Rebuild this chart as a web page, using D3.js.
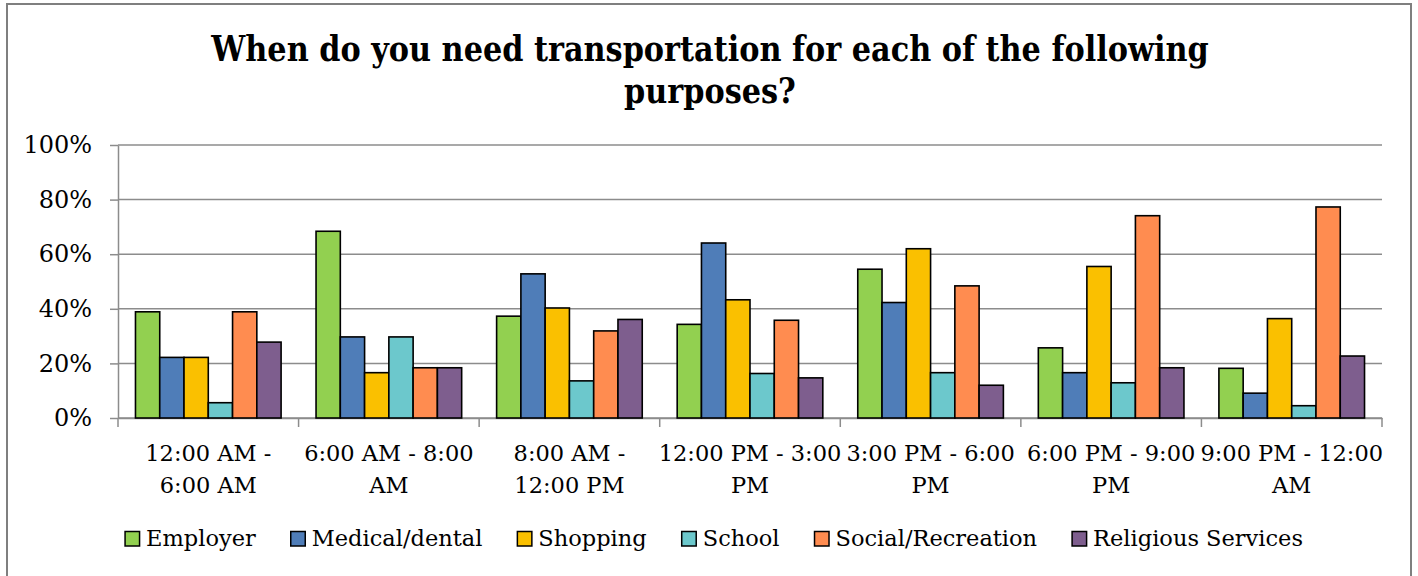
<!DOCTYPE html>
<html>
<head>
<meta charset="utf-8">
<script src="https://cdn.jsdelivr.net/npm/d3@7"></script>
<style>
  body { margin: 0; background: #fff; }
  svg { display: block; }
</style>
</head>
<body>
<svg id="chart" width="1418" height="576"></svg>
<script>
// ---- data ----
const categories = [
  "12:00 AM - 6:00 AM", "6:00 AM - 8:00 AM", "8:00 AM - 12:00 PM",
  "12:00 PM - 3:00 PM", "3:00 PM - 6:00 PM", "6:00 PM - 9:00 PM", "9:00 PM - 12:00 AM"
];
const categoryLabelLines = [
  ["12:00 AM -", "6:00 AM"], ["6:00 AM - 8:00", "AM"], ["8:00 AM -", "12:00 PM"],
  ["12:00 PM - 3:00", "PM"], ["3:00 PM - 6:00", "PM"], ["6:00 PM - 9:00", "PM"], ["9:00 PM - 12:00", "AM"]
];
const seriesNames = ["Employer", "Medical/dental", "Shopping", "School", "Social/Recreation", "Religious Services"];
const employer  = [38.9, 68.4, 37.3, 34.3, 54.5, 25.7, 18.2];
const medical   = [22.2, 29.7, 52.8, 64.1, 42.3, 16.6, 9.1];
const shopping  = [22.2, 16.6, 40.3, 43.3, 62.0, 55.5, 36.4];
const school    = [5.6, 29.7, 13.6, 16.3, 16.6, 12.9, 4.5];
const social    = [38.9, 18.4, 31.9, 35.8, 48.4, 74.1, 77.3];
const religious = [27.8, 18.4, 36.1, 14.7, 12.0, 18.4, 22.7];
const seriesValues = [employer, medical, shopping, school, social, religious];
const seriesColors = ["#92D050", "#4F7DB8", "#FAC000", "#6CC8CC", "#FF8C50", "#7E5E8E"];
const yTickValues = [0, 20, 40, 60, 80, 100];
const titleLines = ["When do you need transportation for each of the following", "purposes?"];

// ---- layout ----
const W = 1418, H = 576;
const plot = { left: 118, right: 1382, top: 145, bottom: 418 };
const FONT = "'DejaVu Serif', 'Liberation Serif', serif";
const gridColor = "#8c8c8c";

const svg = d3.select("#chart");
svg.append("rect").attr("width", W).attr("height", H).attr("fill", "#fff");

// chart frame
svg.append("rect")
  .attr("x", 7).attr("y", 4).attr("width", 1404).attr("height", H + 20)
  .attr("fill", "none").attr("stroke", "#7f7f7f").attr("stroke-width", 2);

// scales
const x0 = d3.scaleBand().domain(categories).range([plot.left, plot.right]).padding(0);
const x1 = d3.scaleBand().domain(seriesNames).range([0, x0.bandwidth()])
  .paddingInner(0).paddingOuter(0.72);
const y = d3.scaleLinear().domain([0, 100]).range([plot.bottom, plot.top]);
const color = d3.scaleOrdinal().domain(seriesNames).range(seriesColors);

// title
const title = svg.append("g").attr("class", "title");
titleLines.forEach((t, i) => {
  title.append("text")
    .attr("x", 710).attr("y", 61 + i * 42)
    .attr("text-anchor", "middle")
    .attr("font-family", FONT).attr("font-weight", "bold")
    .attr("font-size", 36).attr("fill", "#000")
    .text(t);
});
// keep the long title line at its wrapped width
(function fitTitle() {
  const first = title.select("text").node();
  const natural = first.getComputedTextLength();
  const target = 998;
  const k = target / natural;
  title.selectAll("text").attr("transform", `translate(${710 * (1 - k)},0) scale(${k},1)`);
})();

// horizontal gridlines
svg.append("g").attr("class", "grid")
  .selectAll("line").data(yTickValues).join("line")
  .attr("x1", plot.left).attr("x2", plot.right)
  .attr("y1", d => y(d)).attr("y2", d => y(d))
  .attr("stroke", gridColor).attr("stroke-width", 1.5);

// y axis
const yAxis = svg.append("g").attr("transform", `translate(${plot.left},0)`)
  .call(d3.axisLeft(y).tickValues(yTickValues).tickFormat(d => d + "%")
    .tickSize(8).tickSizeOuter(0).tickPadding(18));
yAxis.select(".domain").attr("stroke", gridColor).attr("stroke-width", 1.5);
yAxis.selectAll(".tick line").attr("stroke", gridColor).attr("stroke-width", 1.5);
yAxis.selectAll(".tick text")
  .attr("font-family", FONT).attr("font-size", 24).attr("fill", "#000");

// x axis: labels centred under each group, tick marks at group boundaries
const xAxis = svg.append("g").attr("transform", `translate(0,${plot.bottom})`)
  .call(d3.axisBottom(x0).tickSize(0).tickSizeOuter(0));
xAxis.select(".domain").attr("stroke", gridColor).attr("stroke-width", 1.5);
xAxis.selectAll(".tick text").each(function (d, i) {
  const t = d3.select(this).text(null)
    .attr("y", 0).attr("dy", null)
    .attr("font-family", FONT).attr("font-size", 22.5).attr("fill", "#000");
  categoryLabelLines[i].forEach((line, j) => {
    t.append("tspan").attr("x", 0).attr("y", 43 + j * 31.5).text(line);
  });
});
const boundaries = categories.map(c => x0(c)).concat([x0(categories[categories.length - 1]) + x0.bandwidth()]);
xAxis.append("g").selectAll("line").data(boundaries).join("line")
  .attr("x1", d => d).attr("x2", d => d).attr("y1", 0).attr("y2", 9)
  .attr("stroke", gridColor).attr("stroke-width", 1.5);

// bars
const groups = svg.append("g").attr("class", "bars")
  .selectAll("g").data(categories).join("g")
  .attr("transform", c => `translate(${x0(c)},0)`);
groups.selectAll("rect")
  .data((c, ci) => seriesNames.map((s, si) => ({ series: s, value: seriesValues[si][ci] })))
  .join("rect")
  .attr("x", d => x1(d.series))
  .attr("width", x1.bandwidth())
  .attr("y", d => y(d.value))
  .attr("height", d => y(0) - y(d.value))
  .attr("fill", d => color(d.series))
  .attr("stroke", "#000").attr("stroke-width", 1.6);

// legend
const legendGap = 35;
const legend = svg.append("g").attr("class", "legend");
const items = legend.selectAll("g").data(seriesNames).join("g");
items.append("rect")
  .attr("x", 0).attr("y", -14.5).attr("width", 14.5).attr("height", 14.5)
  .attr("fill", d => color(d)).attr("stroke", "#000").attr("stroke-width", 1.5);
items.append("text")
  .attr("x", 21).attr("y", 0)
  .attr("font-family", FONT).attr("font-size", 22.5).attr("fill", "#000")
  .text(d => d);
let cursor = 0;
const offsets = [];
items.each(function () {
  const w = 21 + d3.select(this).select("text").node().getComputedTextLength();
  offsets.push(cursor);
  cursor += w + legendGap;
});
const legendWidth = cursor - legendGap;
const legendStart = 714 - legendWidth / 2;
items.attr("transform", (d, i) => `translate(${legendStart + offsets[i]},546)`);
</script>
</body>
</html>
